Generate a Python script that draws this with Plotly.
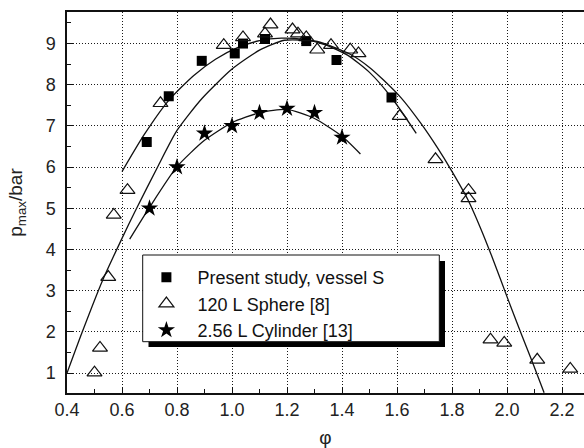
import plotly.graph_objects as go

# Measured points
sq_x = [0.69, 0.77, 0.89, 1.01, 1.04, 1.12, 1.27, 1.38, 1.58]
sq_y = [6.61, 7.72, 8.58, 8.76, 9.00, 9.11, 9.06, 8.60, 7.69]

tri_x = [0.50, 0.52, 0.55, 0.57, 0.62, 0.74, 0.97, 1.04, 1.12, 1.14, 1.22, 1.24, 1.27,
         1.31, 1.36, 1.43, 1.46, 1.61, 1.74, 1.86, 1.86, 1.94, 1.99, 2.11, 2.23]
tri_y = [1.01, 1.61, 3.33, 4.84, 5.44, 7.55, 8.96, 9.15, 9.24, 9.46, 9.34, 9.24, 9.15,
         8.85, 8.96, 8.85, 8.76, 7.24, 6.19, 5.44, 5.24, 1.81, 1.73, 1.32, 1.10]

star_x = [0.7, 0.8, 0.9, 1.0, 1.1, 1.2, 1.3, 1.4]
star_y = [5.0, 6.0, 6.82, 7.0, 7.32, 7.42, 7.32, 6.72]

# Fitted curves, sampled along each fit
fit_sq_x = [0.60, 0.68, 0.77, 0.86, 0.94, 1.02, 1.10, 1.18, 1.26, 1.34, 1.42, 1.50, 1.58, 1.67]
fit_sq_y = [5.89, 6.78, 7.62, 8.22, 8.62, 8.90, 9.07, 9.13, 9.10, 8.97, 8.72, 8.30, 7.69, 6.82]

fit_tri_x = [0.40, 0.455, 0.53, 0.60, 0.65, 0.73, 0.80, 0.89, 1.00, 1.10, 1.19, 1.31, 1.43,
             1.50, 1.55, 1.615, 1.687, 1.748, 1.796, 1.857, 1.905, 1.945, 2.003, 2.052, 2.094, 2.135]
fit_tri_y = [1.00, 1.99, 3.26, 4.27, 4.96, 6.01, 6.89, 7.66, 8.38, 8.84, 9.08, 9.05, 8.74,
             8.42, 8.12, 7.68, 7.06, 6.46, 5.94, 5.22, 4.50, 3.83, 2.80, 1.95, 1.24, 0.52]

fit_star_x = [0.628, 0.70, 0.80, 0.90, 1.00, 1.10, 1.20, 1.30, 1.40, 1.467]
fit_star_y = [4.25, 5.02, 6.01, 6.65, 7.08, 7.32, 7.40, 7.18, 6.75, 6.32]

x_ticks = [0.4, 0.6, 0.8, 1.0, 1.2, 1.4, 1.6, 1.8, 2.0, 2.2]
y_ticks = [1, 2, 3, 4, 5, 6, 7, 8, 9]

FONT = "Liberation Sans, Arial, sans-serif"
LINE = dict(color="#111111", width=1.3)

fig = go.Figure()
for fx, fy in [(fit_sq_x, fit_sq_y), (fit_tri_x, fit_tri_y), (fit_star_x, fit_star_y)]:
    fig.add_trace(go.Scatter(x=fx, y=fy, mode="lines", line=dict(shape="spline", smoothing=0.6, **LINE),
                             showlegend=False, hoverinfo="skip"))

fig.add_trace(go.Scatter(x=sq_x, y=sq_y, mode="markers", name="Present study, vessel S",
                         marker=dict(symbol="square", size=10, color="#000000")))
fig.add_trace(go.Scatter(x=tri_x, y=tri_y, mode="markers", name="120 L Sphere [8]",
                         marker=dict(symbol="triangle-up", size=13, color="rgba(255,255,255,0)",
                                     line=dict(color="#111111", width=1.2))))
fig.add_trace(go.Scatter(x=star_x, y=star_y, mode="markers", name="2.56 L Cylinder [13]",
                         marker=dict(symbol="star", size=13, color="#000000")))

L, R, T, B = 67, 0, 12, 55
W, H = 584, 448
pw, ph = W - L - R, H - T - B


def px_x(p):
    return (p - L) / pw


def px_y(p):
    return (H - B - p) / ph


# Legend frame with drop shadow
fig.add_shape(type="rect", xref="paper", yref="paper", layer="above",
              x0=px_x(148.5), x1=px_x(445), y0=px_y(347), y1=px_y(261),
              fillcolor="#000000", line=dict(width=0))
fig.add_shape(type="rect", xref="paper", yref="paper", layer="above",
              x0=px_x(142.7), x1=px_x(439.3), y0=px_y(341.7), y1=px_y(255),
              fillcolor="#ffffff", line=dict(color="#111111", width=1))

axis_common = dict(
    showline=True, linecolor="#111111", linewidth=1.5,
    ticks="inside", ticklen=6, tickcolor="#111111",
    showgrid=True, gridcolor="#1a1a1a", gridwidth=1, griddash="1px,2px",
    zeroline=False,
    tickfont=dict(family=FONT, size=18, color="#222222"),
)

fig.update_layout(
    width=W, height=H,
    margin=dict(l=L, r=R, t=T, b=B),
    paper_bgcolor="#ffffff", plot_bgcolor="#ffffff",
    xaxis=dict(range=[0.4, 0.4 + pw / 275.0], tickvals=x_ticks, tickformat=".1f",
               mirror=True,
               minor=dict(ticks="inside", ticklen=4, dtick=0.1, tick0=0.4, tickcolor="#111111", showgrid=False),
               title=dict(text="φ", font=dict(family=FONT, size=19, color="#222222"), standoff=12),
               **axis_common),
    yaxis=dict(range=[0.515, 9.766], tickvals=y_ticks, mirror=False, ticklabelstandoff=6,
               minor=dict(ticks="inside", ticklen=4, dtick=0.5, tick0=0.5, tickcolor="#111111", showgrid=False),
               title=dict(text="p<sub>max</sub>/bar", font=dict(family=FONT, size=19, color="#222222"), standoff=18),
               **axis_common),
    legend=dict(x=px_x(135.4), y=px_y(259), xanchor="left", yanchor="top",
                bgcolor="rgba(0,0,0,0)", borderwidth=0, itemwidth=52,
                font=dict(family=FONT, size=18, color="#111111")),
    showlegend=True,
)

fig.write_html("out.html")
